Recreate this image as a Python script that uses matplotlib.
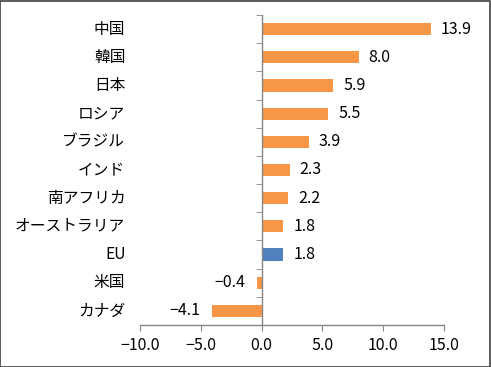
import matplotlib
matplotlib.use("Agg")
import matplotlib.pyplot as plt
import matplotlib.transforms as mtransforms
from matplotlib.patches import Rectangle
import numpy as np

plt.rcParams['font.family'] = ['Noto Sans CJK JP', 'DejaVu Sans']

categories = ["中国", "韓国", "日本", "ロシア", "ブラジル", "インド", "南アフリカ",
              "オーストラリア", "EU", "米国", "カナダ"]
values = [13.9, 8.0, 5.9, 5.5, 3.9, 2.3, 2.2, 1.8, 1.8, -0.4, -4.1]
highlight = "EU"
xticks = [-10, -5, 0, 5, 10, 15]

orange = "#F79646"
blue = "#4F81BD"
axis_grey = "#868686"

fig = plt.figure(figsize=(4.91, 3.67), dpi=100)
ax = fig.add_axes([140/491, 42/367, 304/491, 310/367])

n = len(categories)
y = np.arange(n)[::-1]
colors = [blue if c == highlight else orange for c in categories]
ax.barh(y, values, height=0.43, color=colors)

ax.set_xlim(-10, 15)
ax.set_ylim(-0.5, n - 0.5)

for spine in ['top', 'right']:
    ax.spines[spine].set_visible(False)
ax.spines['left'].set_position(('data', 0))
for spine in ['left', 'bottom']:
    ax.spines[spine].set_color(axis_grey)
    ax.spines[spine].set_linewidth(1.0)

ax.set_xticks(xticks)
ax.set_xticklabels([f"{v:.1f}".replace("-", "\u2212") for v in xticks], fontsize=11.5)
ax.tick_params(axis='x', direction='out', length=4, color=axis_grey, pad=5)

ax.set_yticks([])
ax.set_yticks(np.arange(-0.5, n, 1.0), minor=True)
ax.tick_params(axis='y', which='minor', direction='out', length=4, color=axis_grey, labelleft=False)
ax.tick_params(axis='y', which='major', length=0, labelleft=False)

trans = mtransforms.blended_transform_factory(ax.transAxes, ax.transData)
for yi, cat in zip(y, categories):
    ax.text(-0.048, yi, cat, transform=trans, ha='right', va='center', fontsize=11.3)

for yi, v in zip(y, values):
    label = f"{v:.1f}".replace("-", "\u2212")
    if v >= 0:
        ax.annotate(label, (v, yi), xytext=(7, 0), textcoords='offset points',
                    ha='left', va='center', fontsize=11.5)
    else:
        ax.annotate(label, (v, yi), xytext=(-8, 0), textcoords='offset points',
                    ha='right', va='center', fontsize=11.5)

fig.patches.append(Rectangle((0.001, 0.001), 0.997, 0.996, transform=fig.transFigure,
                             fill=False, edgecolor="#404040", linewidth=1.2))

fig.savefig("out.png", dpi=100)
